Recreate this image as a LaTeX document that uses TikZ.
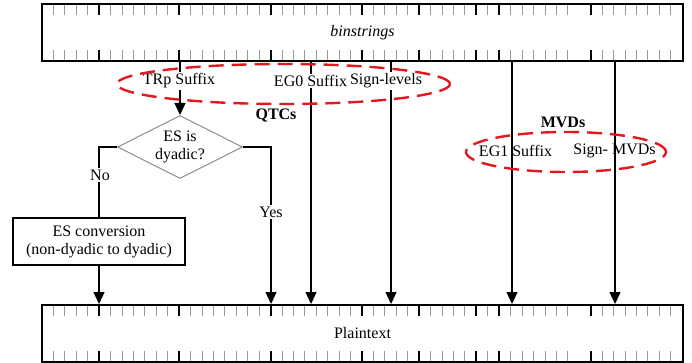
\documentclass[tikz,border=0pt]{standalone}
\usepackage{fontspec}
\setmainfont{Liberation Serif}
\usetikzlibrary{arrows.meta,shapes.geometric}
\tikzset{
  strip/.style={draw, line width=2pt, minimum width=641pt, minimum height=57pt, inner sep=0pt},
  greytick/.style={draw=black!40, line width=1pt},
  blacktick/.style={draw=black, line width=2pt},
  conn/.style={draw=black, line width=1.3pt},
  arr/.style={conn, -{Triangle[length=12pt,width=11pt]}},
  lbl/.style={inner sep=1.5pt},
  wlbl/.style={lbl, fill=white},
  reddash/.style={draw={rgb,255:red,225;green,25;blue,30}, line width=2.4pt, dash pattern=on 15pt off 8pt},
  esbox/.style={draw, line width=1.6pt, minimum width=172pt, minimum height=47pt, align=center, inner sep=0pt},
  dec/.style={diamond, draw=black!45, line width=1pt, minimum width=125pt, minimum height=63pt, inner sep=0pt}
}
\begin{document}
\begin{tikzpicture}[x=1pt,y=-1pt,font=\fontsize{16}{18}\selectfont]
\useasboundingbox (0,0) rectangle (692,363);
% strips
\node[strip] (top) at (362.5,33) {\textit{binstrings}};
\node[strip] (bot) at (362.5,333.5) {Plaintext};
% ticks
\foreach \k in {0,...,3,5,6,7,8,9,10,12,13,14,15,16,17,18,20,21,22,23,24,25,26,28,29,30,31,33,34,35,36,38,40,41,42,43,44,45,48,49,50,51,52,53,54}{
  \pgfmathsetmacro{\tx}{53.5+\k*11.43}
  \draw[greytick] (\tx,5) -- (\tx,15);
  \draw[greytick] (\tx,50) -- (\tx,60);
  \draw[greytick] (\tx,306) -- (\tx,316);
  \draw[greytick] (\tx,351) -- (\tx,361);
}
\foreach \k in {4,11,19,27,32,37,39,47}{
  \pgfmathsetmacro{\tx}{53.5+\k*11.43}
  \draw[blacktick] (\tx,5) -- (\tx,15);
  \draw[blacktick] (\tx,50) -- (\tx,60);
  \draw[blacktick] (\tx,306) -- (\tx,316);
  \draw[blacktick] (\tx,351) -- (\tx,361);
}
% decision and conversion
\node[dec] (dia) at (180,147) {};
\node[align=center, inner sep=0pt] (diatext) at (dia) {ES is\\dyadic?};
\node[esbox] (conv) at (99,241.5) {ES conversion\\(non-dyadic to dyadic)};
% x positions of vertical connectors
\coordinate (xtrp) at (180,0);
\coordinate (xeg0) at (311,0);
\coordinate (xsgl) at (391,0);
\coordinate (xyes) at (271,0);
\coordinate (xeg1) at (512,0);
\coordinate (xsmv) at (615,0);
% connectors
\draw[arr] (xtrp |- top.south) -- (dia.north);
\draw[arr] (xeg0 |- top.south) -- (xeg0 |- bot.north);
\draw[arr] (xsgl |- top.south) -- (xsgl |- bot.north);
\draw[arr] (xeg1 |- top.south) -- (xeg1 |- bot.north);
\draw[arr] (xsmv |- top.south) -- (xsmv |- bot.north);
\draw[conn] (dia.west) -| (conv.north);
\draw[arr] (dia.east) -| (xyes |- bot.north);
\draw[arr] (conv.south) -- (conv.south |- bot.north);
% labels
\node[wlbl] (trp) at (179,81) {TRp Suffix};
\node[wlbl] (eg0) at (310.5,81) {EG0 Suffix};
\node[wlbl] (sgl) at (386,81) {Sign-levels};
\node[wlbl] (no) at (100,175) {No};
\node[wlbl] (yes) at (271,212) {Yes};
\node[lbl] (qtc) at (276,116) {\textbf{QTCs}};
\node[lbl] (mvd) at (563,122) {\textbf{MVDs}};
\node[lbl] (eg1) at (515.5,151) {EG1 Suffix};
\node[lbl] (smv) at (614.5,151) {Sign- MVDs};
% dashed groups
\node[ellipse, reddash, minimum width=333pt, minimum height=40pt, inner sep=0pt] (qtcgrp) at (283.5,84) {};
\node[ellipse, reddash, minimum width=200pt, minimum height=40pt, inner sep=0pt] (mvdgrp) at (566,152) {};
\end{tikzpicture}
\end{document}
